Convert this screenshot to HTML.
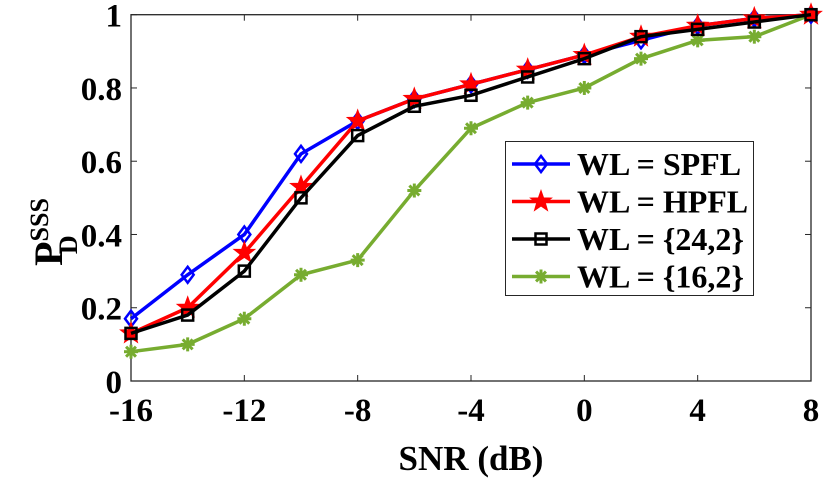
<!DOCTYPE html>
<html><head><meta charset="utf-8"><style>
body{margin:0;background:#fff;width:829px;height:481px;overflow:hidden}
text{font-family:"Liberation Serif","Times New Roman",serif;font-weight:bold}
</style></head><body>
<svg id="c" width="829" height="481">
</svg>
<script>
const snr=[-16,-14,-12,-10,-8,-6,-4,-2,0,2,4,6,8];
const spfl=[.17,.29,.40,.62,.71,.77,.81,.85,.89,.93,.97,.99,1.0];
const hpfl=[.13,.20,.35,.53,.71,.77,.81,.85,.89,.94,.97,.99,1.0];
const wl242=[.13,.18,.30,.50,.67,.75,.78,.83,.88,.94,.96,.98,1.0];
const wl162=[.08,.10,.17,.29,.33,.52,.69,.76,.80,.88,.93,.94,1.0];
const xTicks=[-16,-12,-8,-4,0,4,8];
const yTicks=[0,0.2,0.4,0.6,0.8,1];
const yTickLabels=["0","0.2","0.4","0.6","0.8","1"];
const L=131,R=811,T=14.7,B=381;
const X=v=>L+(v+16)/24*(R-L), Y=v=>B-v*(B-T);
const svg=document.getElementById('c');const NS='http://www.w3.org/2000/svg';
function mk(t,a,p){const e=document.createElementNS(NS,t);for(const k in a)e.setAttribute(k,a[k]);(p||svg).appendChild(e);return e;}
let box=mk('rect',{x:L,y:T,width:R-L,height:B-T,fill:'none',stroke:'#262626','stroke-width':1.3});


xTicks.forEach(v=>{const x=X(v);
mk('line',{x1:x,x2:x,y1:B,y2:B-6,stroke:'#262626'});mk('line',{x1:x,x2:x,y1:T,y2:T+6,stroke:'#262626'});
const t=mk('text',{x:x,y:B+40,'text-anchor':'middle','font-size':33});t.textContent=v;

});
yTicks.forEach((v,i)=>{const y=Y(v);
mk('line',{x1:L,x2:L+6,y1:y,y2:y,stroke:'#262626'});mk('line',{x1:R,x2:R-6,y1:y,y2:y,stroke:'#262626'});
const t=mk('text',{x:L-9,y:y+12,'text-anchor':'end','font-size':33});t.textContent=yTickLabels[i];

});
const xt=mk('text',{x:(L+R)/2,y:470,'text-anchor':'middle','font-size':35});xt.textContent='SNR (dB)';


const yt=mk('text',{transform:'translate(62,232) rotate(-90)','font-size':40,'text-anchor':'middle'});
yt.innerHTML='P<tspan font-size="26" dy="-14">SSS</tspan><tspan font-size="26" dy="29" dx="-56">D</tspan>';


function marker(type,x,y,c,g){
 if(type==='d')mk('polygon',{points:`${x},${y-8} ${x+6},${y} ${x},${y+8} ${x-6},${y}`,fill:'none',stroke:c,'stroke-width':2.5},g);
 else if(type==='s')mk('rect',{x:x-5.5,y:y-5.5,width:11,height:11,fill:'none',stroke:c,'stroke-width':2.5},g);
 else if(type==='p'){let p=[];for(let i=0;i<10;i++){const r=i%2?4.5:11,a=-Math.PI/2+i*Math.PI/5;p.push((x+r*Math.cos(a)).toFixed(1)+','+(y+r*Math.sin(a)).toFixed(1));}mk('polygon',{points:p.join(' '),fill:c,stroke:c},g);}
 else{for(let i=0;i<4;i++){const a=i*Math.PI/4;mk('line',{x1:x-7*Math.cos(a),y1:y-7*Math.sin(a),x2:x+7*Math.cos(a),y2:y+7*Math.sin(a),stroke:c,'stroke-width':3},g);}}
}
const series=[[spfl,'#0000ff','d','series-spfl','WL = SPFL'],[hpfl,'#ff0000','p','series-hpfl','WL = HPFL'],[wl242,'#000000','s','series-24-2','WL = {24,2}'],[wl162,'#77ac30','a','series-16-2','WL = {16,2}']];
[3,0,1,2].forEach(k=>{const [d,c,m,n]=series[k];
 const g=mk('g',{});
 
 mk('polyline',{points:d.map((v,i)=>X(snr[i])+','+Y(v)).join(' '),fill:'none',stroke:c,'stroke-width':3.5},g);
 d.forEach((v,i)=>marker(m,X(snr[i]),Y(v),c,g));});
const lg=mk('g',{});

mk('rect',{x:505.5,y:141.5,width:248,height:154,fill:'#fff',stroke:'#262626','stroke-width':1},lg);
series.forEach((s,i)=>{const y=164+i*37.5;
 const e=mk('g',{},lg);
 
 mk('line',{x1:512,x2:570,y1:y,y2:y,stroke:s[1],'stroke-width':3.5},e);
 marker(s[2],541,y,s[1],e);
 const t=mk('text',{x:577,y:y+11,'font-size':32},e);t.textContent=s[4];});
</script>
</body></html>
